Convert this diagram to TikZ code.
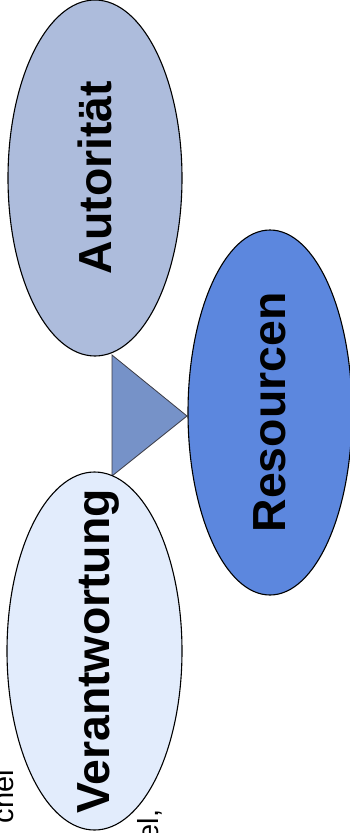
\documentclass[tikz,border=0pt]{standalone}
\usepackage{fontspec}
\setmainfont{Liberation Sans}
\usetikzlibrary{shapes.geometric}
\definecolor{autfill}{RGB}{173,188,220}
\definecolor{resfill}{RGB}{92,135,222}
\definecolor{verfill}{RGB}{226,236,252}
\definecolor{trifill}{RGB}{118,146,200}
\definecolor{triline}{RGB}{60,60,70}
\tikzset{
  bubble/.style={ellipse, draw=black, line width=1.1pt, inner sep=0pt},
  bigtext/.style={rotate=90, inner sep=0pt, font=\fontsize{46.4}{50}\selectfont\bfseries},
  sidetext/.style={rotate=90, inner sep=0pt, font=\fontsize{29}{32}\selectfont}
}
\begin{document}
\begin{tikzpicture}[x=1pt,y=-1pt]
\useasboundingbox (0,0) rectangle (349,833);
% partial side texts
\node[sidetext, anchor=base east] (t1) at (13.3,769.8) {chel};
\node[sidetext, anchor=base east] (t2) at (158,809.5) {el,};
% triangle
\coordinate (ta) at (112,355);
\coordinate (tb) at (112,476);
\coordinate (tc) at (187,416);
\draw[fill=trifill, draw=triline, line width=0.8pt, line join=miter] (ta) -- (tb) -- (tc) -- cycle;
% ellipses
\node[bubble, fill=autfill, minimum width=174pt, minimum height=356pt] (aut) at (95,178) {};
\node[bubble, fill=resfill, minimum width=164pt, minimum height=365pt] (res) at (270,412.5) {};
\node[bubble, fill=verfill, minimum width=175pt, minimum height=358pt] (ver) at (94.5,651) {};
% labels
\node[bigtext] (lt1) at (95,177.5) {Autorität};
\node[bigtext] (lt2) at (270,412.5) {Resourcen};
\node[bigtext] (lt3) at (98.5,651.5) {Verantwortung};
\end{tikzpicture}
\end{document}
